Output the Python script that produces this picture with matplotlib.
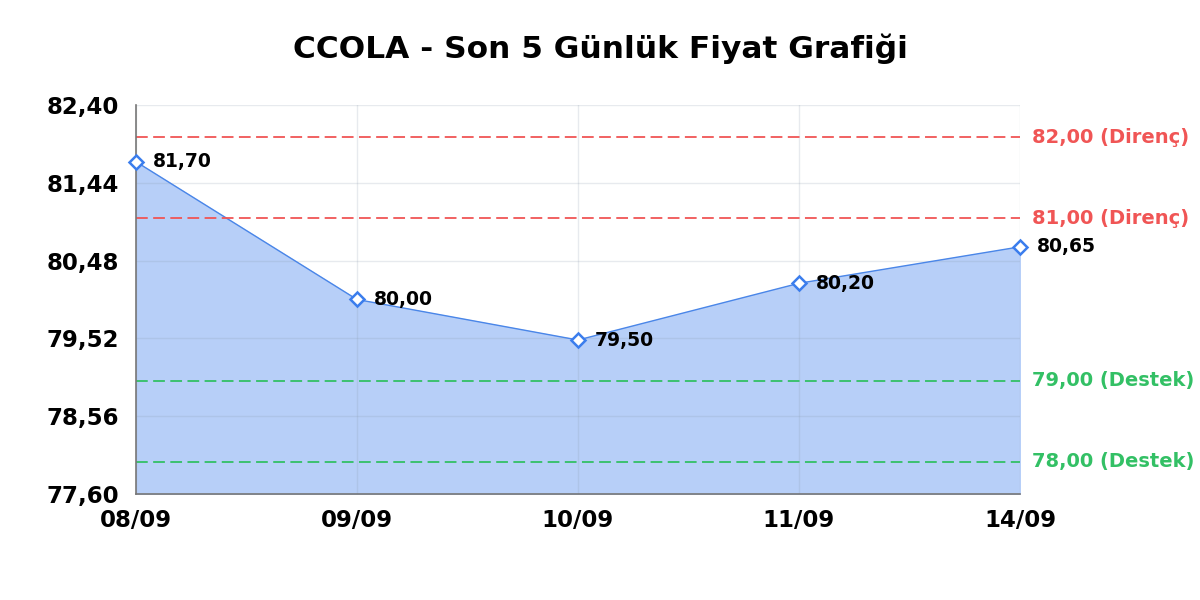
import matplotlib
matplotlib.use('Agg')
import matplotlib.pyplot as plt
from matplotlib.ticker import FixedLocator, FuncFormatter

# Data
dates = ['08/09', '09/09', '10/09', '11/09', '14/09']
prices = [81.70, 80.00, 79.50, 80.20, 80.65]
resistance = [82.00, 81.00]
support = [79.00, 78.00]
y_ticks = [77.60, 78.56, 79.52, 80.48, 81.44, 82.40]
title = 'CCOLA - Son 5 Günlük Fiyat Grafiği'

def tr(v):
    return ('%.2f' % v).replace('.', ',')

plt.rcParams['font.family'] = 'DejaVu Sans'

fig = plt.figure(figsize=(12, 6), dpi=100, facecolor='white')
ax = fig.add_axes([0.1133, 0.1767, 0.7367, 0.6483])

x = list(range(len(dates)))
ax.fill_between(x, prices, y_ticks[0], color='#b7cff8', zorder=1)
ax.plot(x, prices, color='#4a86e8', linewidth=1.0, zorder=3)
ax.plot(x, prices, linestyle='none', marker='D', markersize=7.5,
        markerfacecolor='white', markeredgecolor='#3b7ded',
        markeredgewidth=1.8, zorder=8, clip_on=False)

for xi, p in zip(x, prices):
    ax.annotate(tr(p), (xi, p), xytext=(12, 0), textcoords='offset points',
                va='center', ha='left', fontsize=13.5, fontweight='bold',
                color='black', zorder=9)

for lvl in resistance:
    ax.axhline(lvl, color='#f05555', linestyle=(0, (6.5, 3)), linewidth=1.3, zorder=4)
    ax.annotate(tr(lvl) + ' (Direnç)', (1, lvl), xycoords=('axes fraction', 'data'),
                xytext=(9, 0), textcoords='offset points', va='center', ha='left',
                fontsize=14, fontweight='bold', color='#f05555', annotation_clip=False)
for lvl in support:
    ax.axhline(lvl, color='#33c065', linestyle=(0, (6.5, 3)), linewidth=1.3, zorder=4)
    ax.annotate(tr(lvl) + ' (Destek)', (1, lvl), xycoords=('axes fraction', 'data'),
                xytext=(9, 0), textcoords='offset points', va='center', ha='left',
                fontsize=14, fontweight='bold', color='#33c065', annotation_clip=False)

ax.set_xlim(x[0], x[-1])
ax.set_ylim(y_ticks[0], y_ticks[-1])
ax.set_xticks(x)
ax.set_xticklabels(dates)
ax.yaxis.set_major_locator(FixedLocator(y_ticks))
ax.yaxis.set_major_formatter(FuncFormatter(lambda v, pos: tr(v)))
ax.tick_params(axis='both', length=0, labelsize=16.5, labelcolor='black')
ax.tick_params(axis='y', pad=12)
ax.tick_params(axis='x', pad=11)
for lab in ax.get_xticklabels() + ax.get_yticklabels():
    lab.set_fontweight('bold')

ax.grid(True, color='#8899aa', alpha=0.2, linewidth=1, zorder=2)
ax.set_axisbelow(False)
for s in ['top', 'right']:
    ax.spines[s].set_visible(False)
for s in ['left', 'bottom']:
    ax.spines[s].set_color('#777777')
    ax.spines[s].set_linewidth(1.2)
    ax.spines[s].set_zorder(7)

fig.suptitle(title, x=0.5, y=0.945, fontsize=22.5, fontweight='bold', color='black')

fig.savefig('out.png', dpi=100)
